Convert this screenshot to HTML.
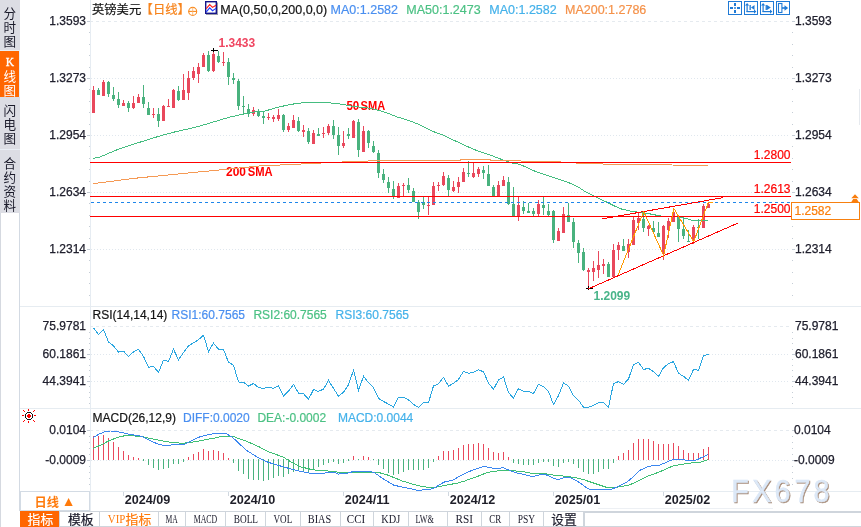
<!DOCTYPE html>
<html><head><meta charset="utf-8"><title>GBPUSD</title>
<style>
html,body{margin:0;padding:0;background:#fff;}
body{width:861px;height:527px;overflow:hidden;position:relative;}
svg text{white-space:pre;}
</style></head>
<body>
<svg width="861" height="527" viewBox="0 0 861 527" style="position:absolute;left:0;top:0">
<g font-family='"Liberation Sans","Noto Sans CJK SC",sans-serif'>
<rect x="0" y="0" width="20" height="213" fill="#dcdde4"/>
<rect x="0" y="50" width="20" height="1" fill="#e9eef5"/>
<rect x="0" y="51" width="19" height="46" fill="#ff6600"/>
<rect x="19" y="51" width="1" height="46" fill="#e9eef5"/>
<rect x="0" y="149" width="20" height="1" fill="#e9eef5"/>
<rect x="0" y="213" width="1" height="314" fill="#d5d9e0"/>
<rect x="19" y="213" width="1" height="298" fill="#d3dae3"/>
<text x="9.8" y="17.6" fill="#1a1a2a" font-size="12.6" text-anchor="middle">分</text><text x="9.8" y="31.6" fill="#1a1a2a" font-size="12.6" text-anchor="middle">时</text><text x="9.8" y="45.6" fill="#1a1a2a" font-size="12.6" text-anchor="middle">图</text>
<text x="9.9" y="65.6" fill="#fff" font-size="11.5" stroke="#fff" stroke-width="0.3" text-anchor="middle" font-family="Liberation Serif,serif">K</text>
<text x="9.8" y="81.0" fill="#fff" font-size="12.6" text-anchor="middle">线</text><text x="9.8" y="95.2" fill="#fff" font-size="12.6" text-anchor="middle">图</text>
<text x="9.8" y="115.0" fill="#1a1a2a" font-size="12.6" text-anchor="middle">闪</text><text x="9.8" y="129.1" fill="#1a1a2a" font-size="12.6" text-anchor="middle">电</text><text x="9.8" y="143.2" fill="#1a1a2a" font-size="12.6" text-anchor="middle">图</text>
<text x="9.8" y="167.6" fill="#1a1a2a" font-size="12.6" text-anchor="middle">合</text><text x="9.8" y="181.6" fill="#1a1a2a" font-size="12.6" text-anchor="middle">约</text><text x="9.8" y="195.6" fill="#1a1a2a" font-size="12.6" text-anchor="middle">资</text><text x="9.8" y="209.6" fill="#1a1a2a" font-size="12.6" text-anchor="middle">料</text>
<rect x="90" y="0" width="1" height="511" fill="#e6ecf2"/>
<line x1="90" y1="21.5" x2="790" y2="21.5" stroke="#e5eaef" stroke-dasharray="3,3"/>
<line x1="91" y1="78.5" x2="790" y2="78.5" stroke="#e0e7ee" stroke-dasharray="1,2"/>
<line x1="91" y1="135.5" x2="790" y2="135.5" stroke="#e0e7ee" stroke-dasharray="1,2"/>
<line x1="91" y1="192.5" x2="790" y2="192.5" stroke="#e0e7ee" stroke-dasharray="1,2"/>
<line x1="91" y1="249.5" x2="790" y2="249.5" stroke="#e0e7ee" stroke-dasharray="1,2"/>
<rect x="20" y="306" width="841" height="1" fill="#e6ecf1"/>
<rect x="20" y="408" width="841" height="1" fill="#e6ecf1"/>
<rect x="20" y="491" width="841" height="1" fill="#e6ecf1"/>
<line x1="90" y1="326.5" x2="790" y2="326.5" stroke="#e5eaef" stroke-dasharray="3,3"/>
<line x1="91" y1="354.5" x2="790" y2="354.5" stroke="#e0e7ee" stroke-dasharray="1,2"/>
<line x1="91" y1="381.5" x2="790" y2="381.5" stroke="#e0e7ee" stroke-dasharray="1,2"/>
<line x1="90" y1="430.5" x2="790" y2="430.5" stroke="#e5eaef" stroke-dasharray="3,3"/>
<line x1="91" y1="460.5" x2="790" y2="460.5" stroke="#e0e7ee" stroke-dasharray="1,2"/>
<rect x="87" y="21" width="3" height="1" fill="#c5cdd6"/><rect x="792" y="21" width="3" height="1" fill="#c5cdd6"/><rect x="87" y="78" width="3" height="1" fill="#c5cdd6"/><rect x="792" y="78" width="3" height="1" fill="#c5cdd6"/><rect x="87" y="135" width="3" height="1" fill="#c5cdd6"/><rect x="792" y="135" width="3" height="1" fill="#c5cdd6"/><rect x="87" y="192" width="3" height="1" fill="#c5cdd6"/><rect x="792" y="192" width="3" height="1" fill="#c5cdd6"/><rect x="87" y="249" width="3" height="1" fill="#c5cdd6"/><rect x="792" y="249" width="3" height="1" fill="#c5cdd6"/><rect x="89" y="32" width="1" height="1" fill="#c5cdd6"/><rect x="792" y="32" width="1" height="1" fill="#c5cdd6"/><rect x="89" y="44" width="1" height="1" fill="#c5cdd6"/><rect x="792" y="44" width="1" height="1" fill="#c5cdd6"/><rect x="89" y="55" width="1" height="1" fill="#c5cdd6"/><rect x="792" y="55" width="1" height="1" fill="#c5cdd6"/><rect x="89" y="67" width="1" height="1" fill="#c5cdd6"/><rect x="792" y="67" width="1" height="1" fill="#c5cdd6"/><rect x="89" y="89" width="1" height="1" fill="#c5cdd6"/><rect x="792" y="89" width="1" height="1" fill="#c5cdd6"/><rect x="89" y="101" width="1" height="1" fill="#c5cdd6"/><rect x="792" y="101" width="1" height="1" fill="#c5cdd6"/><rect x="89" y="112" width="1" height="1" fill="#c5cdd6"/><rect x="792" y="112" width="1" height="1" fill="#c5cdd6"/><rect x="89" y="124" width="1" height="1" fill="#c5cdd6"/><rect x="792" y="124" width="1" height="1" fill="#c5cdd6"/><rect x="89" y="146" width="1" height="1" fill="#c5cdd6"/><rect x="792" y="146" width="1" height="1" fill="#c5cdd6"/><rect x="89" y="158" width="1" height="1" fill="#c5cdd6"/><rect x="792" y="158" width="1" height="1" fill="#c5cdd6"/><rect x="89" y="169" width="1" height="1" fill="#c5cdd6"/><rect x="792" y="169" width="1" height="1" fill="#c5cdd6"/><rect x="89" y="181" width="1" height="1" fill="#c5cdd6"/><rect x="792" y="181" width="1" height="1" fill="#c5cdd6"/><rect x="89" y="203" width="1" height="1" fill="#c5cdd6"/><rect x="792" y="203" width="1" height="1" fill="#c5cdd6"/><rect x="89" y="215" width="1" height="1" fill="#c5cdd6"/><rect x="792" y="215" width="1" height="1" fill="#c5cdd6"/><rect x="89" y="226" width="1" height="1" fill="#c5cdd6"/><rect x="792" y="226" width="1" height="1" fill="#c5cdd6"/><rect x="89" y="238" width="1" height="1" fill="#c5cdd6"/><rect x="792" y="238" width="1" height="1" fill="#c5cdd6"/><rect x="89" y="260" width="1" height="1" fill="#c5cdd6"/><rect x="792" y="260" width="1" height="1" fill="#c5cdd6"/><rect x="89" y="272" width="1" height="1" fill="#c5cdd6"/><rect x="792" y="272" width="1" height="1" fill="#c5cdd6"/><rect x="89" y="283" width="1" height="1" fill="#c5cdd6"/><rect x="792" y="283" width="1" height="1" fill="#c5cdd6"/><rect x="89" y="295" width="1" height="1" fill="#c5cdd6"/><rect x="792" y="295" width="1" height="1" fill="#c5cdd6"/>
<rect x="87" y="354" width="3" height="1" fill="#c5cdd6"/><rect x="792" y="354" width="3" height="1" fill="#c5cdd6"/><rect x="87" y="381" width="3" height="1" fill="#c5cdd6"/><rect x="792" y="381" width="3" height="1" fill="#c5cdd6"/><rect x="89" y="332" width="1" height="1" fill="#c5cdd6"/><rect x="792" y="332" width="1" height="1" fill="#c5cdd6"/><rect x="89" y="338" width="1" height="1" fill="#c5cdd6"/><rect x="792" y="338" width="1" height="1" fill="#c5cdd6"/><rect x="89" y="343" width="1" height="1" fill="#c5cdd6"/><rect x="792" y="343" width="1" height="1" fill="#c5cdd6"/><rect x="89" y="349" width="1" height="1" fill="#c5cdd6"/><rect x="792" y="349" width="1" height="1" fill="#c5cdd6"/><rect x="89" y="359" width="1" height="1" fill="#c5cdd6"/><rect x="792" y="359" width="1" height="1" fill="#c5cdd6"/><rect x="89" y="365" width="1" height="1" fill="#c5cdd6"/><rect x="792" y="365" width="1" height="1" fill="#c5cdd6"/><rect x="89" y="370" width="1" height="1" fill="#c5cdd6"/><rect x="792" y="370" width="1" height="1" fill="#c5cdd6"/><rect x="89" y="376" width="1" height="1" fill="#c5cdd6"/><rect x="792" y="376" width="1" height="1" fill="#c5cdd6"/><rect x="89" y="386" width="1" height="1" fill="#c5cdd6"/><rect x="792" y="386" width="1" height="1" fill="#c5cdd6"/><rect x="89" y="392" width="1" height="1" fill="#c5cdd6"/><rect x="792" y="392" width="1" height="1" fill="#c5cdd6"/><rect x="89" y="397" width="1" height="1" fill="#c5cdd6"/><rect x="792" y="397" width="1" height="1" fill="#c5cdd6"/><rect x="89" y="403" width="1" height="1" fill="#c5cdd6"/><rect x="792" y="403" width="1" height="1" fill="#c5cdd6"/>
<rect x="87" y="430" width="3" height="1" fill="#c5cdd6"/><rect x="792" y="430" width="3" height="1" fill="#c5cdd6"/><rect x="87" y="460" width="3" height="1" fill="#c5cdd6"/><rect x="792" y="460" width="3" height="1" fill="#c5cdd6"/><rect x="89" y="436" width="1" height="1" fill="#c5cdd6"/><rect x="792" y="436" width="1" height="1" fill="#c5cdd6"/><rect x="89" y="442" width="1" height="1" fill="#c5cdd6"/><rect x="792" y="442" width="1" height="1" fill="#c5cdd6"/><rect x="89" y="448" width="1" height="1" fill="#c5cdd6"/><rect x="792" y="448" width="1" height="1" fill="#c5cdd6"/><rect x="89" y="454" width="1" height="1" fill="#c5cdd6"/><rect x="792" y="454" width="1" height="1" fill="#c5cdd6"/><rect x="89" y="466" width="1" height="1" fill="#c5cdd6"/><rect x="792" y="466" width="1" height="1" fill="#c5cdd6"/><rect x="89" y="472" width="1" height="1" fill="#c5cdd6"/><rect x="792" y="472" width="1" height="1" fill="#c5cdd6"/><rect x="89" y="478" width="1" height="1" fill="#c5cdd6"/><rect x="792" y="478" width="1" height="1" fill="#c5cdd6"/><rect x="89" y="484" width="1" height="1" fill="#c5cdd6"/><rect x="792" y="484" width="1" height="1" fill="#c5cdd6"/>
<text x="86" y="25.2" fill="#20202e" font-size="12" text-anchor="end" font-weight="normal" stroke="#20202e" stroke-width="0.25">1.3593</text>
<text x="795" y="24.6" fill="#20202e" font-size="12" text-anchor="start" font-weight="normal" stroke="#20202e" stroke-width="0.25">1.3593</text>
<text x="86" y="82.2" fill="#20202e" font-size="12" text-anchor="end" font-weight="normal" stroke="#20202e" stroke-width="0.25">1.3273</text>
<text x="795" y="81.6" fill="#20202e" font-size="12" text-anchor="start" font-weight="normal" stroke="#20202e" stroke-width="0.25">1.3273</text>
<text x="86" y="139.2" fill="#20202e" font-size="12" text-anchor="end" font-weight="normal" stroke="#20202e" stroke-width="0.25">1.2954</text>
<text x="795" y="138.6" fill="#20202e" font-size="12" text-anchor="start" font-weight="normal" stroke="#20202e" stroke-width="0.25">1.2954</text>
<text x="86" y="196.2" fill="#20202e" font-size="12" text-anchor="end" font-weight="normal" stroke="#20202e" stroke-width="0.25">1.2634</text>
<text x="795" y="195.6" fill="#20202e" font-size="12" text-anchor="start" font-weight="normal" stroke="#20202e" stroke-width="0.25">1.2634</text>
<text x="86" y="253.2" fill="#20202e" font-size="12" text-anchor="end" font-weight="normal" stroke="#20202e" stroke-width="0.25">1.2314</text>
<text x="795" y="252.6" fill="#20202e" font-size="12" text-anchor="start" font-weight="normal" stroke="#20202e" stroke-width="0.25">1.2314</text>
<text x="86" y="330.2" fill="#20202e" font-size="12" text-anchor="end" font-weight="normal" stroke="#20202e" stroke-width="0.25">75.9781</text>
<text x="795" y="329.6" fill="#20202e" font-size="12" text-anchor="start" font-weight="normal" stroke="#20202e" stroke-width="0.25">75.9781</text>
<text x="86" y="358.2" fill="#20202e" font-size="12" text-anchor="end" font-weight="normal" stroke="#20202e" stroke-width="0.25">60.1861</text>
<text x="795" y="357.6" fill="#20202e" font-size="12" text-anchor="start" font-weight="normal" stroke="#20202e" stroke-width="0.25">60.1861</text>
<text x="86" y="385.2" fill="#20202e" font-size="12" text-anchor="end" font-weight="normal" stroke="#20202e" stroke-width="0.25">44.3941</text>
<text x="795" y="384.6" fill="#20202e" font-size="12" text-anchor="start" font-weight="normal" stroke="#20202e" stroke-width="0.25">44.3941</text>
<text x="86" y="434.2" fill="#20202e" font-size="12" text-anchor="end" font-weight="normal" stroke="#20202e" stroke-width="0.25">0.0104</text>
<text x="794" y="433.6" fill="#20202e" font-size="12" text-anchor="start" font-weight="normal" stroke="#20202e" stroke-width="0.25">0.0104</text>
<text x="86" y="464.2" fill="#20202e" font-size="12" text-anchor="end" font-weight="normal" stroke="#20202e" stroke-width="0.25">-0.0009</text>
<text x="794" y="463.6" fill="#20202e" font-size="12" text-anchor="start" font-weight="normal" stroke="#20202e" stroke-width="0.25">-0.0009</text>
<rect x="93" y="86" width="1" height="27" fill="#e9485c"/>
<rect x="92" y="90" width="3" height="23" fill="#e9485c"/>
<rect x="98" y="88" width="1" height="7" fill="#49b27e"/>
<rect x="97" y="90" width="3" height="5" fill="#49b27e"/>
<rect x="103" y="80" width="1" height="16" fill="#e9485c"/>
<rect x="102" y="82" width="3" height="14" fill="#e9485c"/>
<rect x="108" y="81" width="1" height="16" fill="#49b27e"/>
<rect x="107" y="82" width="3" height="12" fill="#49b27e"/>
<rect x="113" y="87" width="1" height="14" fill="#49b27e"/>
<rect x="112" y="95" width="3" height="4" fill="#49b27e"/>
<rect x="118" y="92" width="1" height="16" fill="#49b27e"/>
<rect x="117" y="99" width="3" height="6" fill="#49b27e"/>
<rect x="123" y="100" width="1" height="6" fill="#e9485c"/>
<rect x="122" y="103" width="3" height="3" fill="#e9485c"/>
<rect x="128" y="101" width="1" height="11" fill="#49b27e"/>
<rect x="127" y="103" width="3" height="5" fill="#49b27e"/>
<rect x="133" y="96" width="1" height="13" fill="#e9485c"/>
<rect x="132" y="103" width="3" height="5" fill="#e9485c"/>
<rect x="138" y="94" width="1" height="9" fill="#e9485c"/>
<rect x="137" y="97" width="3" height="6" fill="#e9485c"/>
<rect x="143" y="85" width="1" height="23" fill="#49b27e"/>
<rect x="142" y="97" width="3" height="7" fill="#49b27e"/>
<rect x="148" y="102" width="1" height="13" fill="#49b27e"/>
<rect x="147" y="108" width="3" height="7" fill="#49b27e"/>
<rect x="153" y="108" width="1" height="10" fill="#e9485c"/>
<rect x="152" y="114" width="3" height="1" fill="#e9485c"/>
<rect x="158" y="108" width="1" height="19" fill="#49b27e"/>
<rect x="157" y="114" width="3" height="7" fill="#49b27e"/>
<rect x="163" y="105" width="1" height="16" fill="#e9485c"/>
<rect x="162" y="106" width="3" height="15" fill="#e9485c"/>
<rect x="168" y="99" width="1" height="8" fill="#e9485c"/>
<rect x="167" y="106" width="3" height="1" fill="#e9485c"/>
<rect x="173" y="89" width="1" height="19" fill="#e9485c"/>
<rect x="172" y="90" width="3" height="18" fill="#e9485c"/>
<rect x="178" y="86" width="1" height="15" fill="#49b27e"/>
<rect x="177" y="91" width="3" height="9" fill="#49b27e"/>
<rect x="183" y="74" width="1" height="26" fill="#e9485c"/>
<rect x="182" y="90" width="3" height="10" fill="#e9485c"/>
<rect x="188" y="71" width="1" height="29" fill="#e9485c"/>
<rect x="187" y="78" width="3" height="15" fill="#e9485c"/>
<rect x="193" y="67" width="1" height="13" fill="#e9485c"/>
<rect x="192" y="71" width="3" height="7" fill="#e9485c"/>
<rect x="198" y="63" width="1" height="20" fill="#e9485c"/>
<rect x="197" y="67" width="3" height="7" fill="#e9485c"/>
<rect x="203" y="53" width="1" height="14" fill="#e9485c"/>
<rect x="202" y="55" width="3" height="12" fill="#e9485c"/>
<rect x="208" y="51" width="1" height="21" fill="#49b27e"/>
<rect x="207" y="55" width="3" height="16" fill="#49b27e"/>
<rect x="213" y="50" width="1" height="22" fill="#e9485c"/>
<rect x="212" y="54" width="3" height="17" fill="#e9485c"/>
<rect x="218" y="51" width="1" height="12" fill="#49b27e"/>
<rect x="217" y="56" width="3" height="6" fill="#49b27e"/>
<rect x="223" y="52" width="1" height="14" fill="#e9485c"/>
<rect x="222" y="62" width="3" height="1" fill="#e9485c"/>
<rect x="228" y="58" width="1" height="27" fill="#49b27e"/>
<rect x="227" y="62" width="3" height="15" fill="#49b27e"/>
<rect x="233" y="73" width="1" height="11" fill="#49b27e"/>
<rect x="232" y="78" width="3" height="2" fill="#49b27e"/>
<rect x="238" y="79" width="1" height="31" fill="#49b27e"/>
<rect x="237" y="81" width="3" height="25" fill="#49b27e"/>
<rect x="243" y="96" width="1" height="18" fill="#49b27e"/>
<rect x="242" y="106" width="3" height="1" fill="#49b27e"/>
<rect x="248" y="104" width="1" height="13" fill="#49b27e"/>
<rect x="247" y="109" width="3" height="5" fill="#49b27e"/>
<rect x="253" y="107" width="1" height="9" fill="#e9485c"/>
<rect x="252" y="110" width="3" height="4" fill="#e9485c"/>
<rect x="258" y="109" width="1" height="8" fill="#49b27e"/>
<rect x="257" y="112" width="3" height="4" fill="#49b27e"/>
<rect x="263" y="112" width="1" height="12" fill="#49b27e"/>
<rect x="262" y="116" width="3" height="2" fill="#49b27e"/>
<rect x="268" y="113" width="1" height="7" fill="#e9485c"/>
<rect x="267" y="117" width="3" height="1" fill="#e9485c"/>
<rect x="273" y="115" width="1" height="7" fill="#e9485c"/>
<rect x="272" y="117" width="3" height="2" fill="#e9485c"/>
<rect x="278" y="109" width="1" height="12" fill="#e9485c"/>
<rect x="277" y="115" width="3" height="4" fill="#e9485c"/>
<rect x="283" y="114" width="1" height="18" fill="#49b27e"/>
<rect x="282" y="115" width="3" height="15" fill="#49b27e"/>
<rect x="288" y="123" width="1" height="9" fill="#e9485c"/>
<rect x="287" y="126" width="3" height="4" fill="#e9485c"/>
<rect x="293" y="115" width="1" height="13" fill="#e9485c"/>
<rect x="292" y="120" width="3" height="8" fill="#e9485c"/>
<rect x="298" y="117" width="1" height="15" fill="#49b27e"/>
<rect x="297" y="121" width="3" height="10" fill="#49b27e"/>
<rect x="303" y="125" width="1" height="12" fill="#e9485c"/>
<rect x="302" y="130" width="3" height="2" fill="#e9485c"/>
<rect x="308" y="128" width="1" height="16" fill="#49b27e"/>
<rect x="307" y="131" width="3" height="11" fill="#49b27e"/>
<rect x="313" y="130" width="1" height="14" fill="#e9485c"/>
<rect x="312" y="133" width="3" height="11" fill="#e9485c"/>
<rect x="318" y="128" width="1" height="8" fill="#49b27e"/>
<rect x="317" y="134" width="3" height="2" fill="#49b27e"/>
<rect x="323" y="127" width="1" height="11" fill="#e9485c"/>
<rect x="322" y="133" width="3" height="1" fill="#e9485c"/>
<rect x="328" y="124" width="1" height="11" fill="#e9485c"/>
<rect x="327" y="126" width="3" height="7" fill="#e9485c"/>
<rect x="333" y="120" width="1" height="19" fill="#49b27e"/>
<rect x="332" y="126" width="3" height="9" fill="#49b27e"/>
<rect x="338" y="127" width="1" height="28" fill="#49b27e"/>
<rect x="337" y="135" width="3" height="11" fill="#49b27e"/>
<rect x="343" y="131" width="1" height="17" fill="#e9485c"/>
<rect x="342" y="143" width="3" height="3" fill="#e9485c"/>
<rect x="348" y="128" width="1" height="11" fill="#49b27e"/>
<rect x="347" y="134" width="3" height="2" fill="#49b27e"/>
<rect x="353" y="120" width="1" height="18" fill="#e9485c"/>
<rect x="352" y="121" width="3" height="17" fill="#e9485c"/>
<rect x="358" y="119" width="1" height="38" fill="#49b27e"/>
<rect x="357" y="122" width="3" height="28" fill="#49b27e"/>
<rect x="363" y="126" width="1" height="26" fill="#e9485c"/>
<rect x="362" y="131" width="3" height="21" fill="#e9485c"/>
<rect x="368" y="130" width="1" height="18" fill="#49b27e"/>
<rect x="367" y="131" width="3" height="12" fill="#49b27e"/>
<rect x="373" y="141" width="1" height="12" fill="#49b27e"/>
<rect x="372" y="146" width="3" height="6" fill="#49b27e"/>
<rect x="378" y="150" width="1" height="28" fill="#49b27e"/>
<rect x="377" y="153" width="3" height="20" fill="#49b27e"/>
<rect x="383" y="169" width="1" height="14" fill="#49b27e"/>
<rect x="382" y="174" width="3" height="6" fill="#49b27e"/>
<rect x="388" y="177" width="1" height="16" fill="#49b27e"/>
<rect x="387" y="182" width="3" height="6" fill="#49b27e"/>
<rect x="393" y="181" width="1" height="18" fill="#49b27e"/>
<rect x="392" y="189" width="3" height="7" fill="#49b27e"/>
<rect x="398" y="183" width="1" height="15" fill="#e9485c"/>
<rect x="397" y="186" width="3" height="12" fill="#e9485c"/>
<rect x="403" y="183" width="1" height="13" fill="#e9485c"/>
<rect x="402" y="185" width="3" height="1" fill="#e9485c"/>
<rect x="408" y="178" width="1" height="15" fill="#49b27e"/>
<rect x="407" y="185" width="3" height="5" fill="#49b27e"/>
<rect x="413" y="188" width="1" height="14" fill="#49b27e"/>
<rect x="412" y="191" width="3" height="11" fill="#49b27e"/>
<rect x="418" y="200" width="1" height="19" fill="#49b27e"/>
<rect x="417" y="202" width="3" height="10" fill="#49b27e"/>
<rect x="423" y="197" width="1" height="12" fill="#49b27e"/>
<rect x="422" y="202" width="3" height="3" fill="#49b27e"/>
<rect x="428" y="197" width="1" height="18" fill="#e9485c"/>
<rect x="427" y="205" width="3" height="1" fill="#e9485c"/>
<rect x="433" y="182" width="1" height="23" fill="#e9485c"/>
<rect x="432" y="186" width="3" height="19" fill="#e9485c"/>
<rect x="438" y="182" width="1" height="9" fill="#e9485c"/>
<rect x="437" y="185" width="3" height="1" fill="#e9485c"/>
<rect x="443" y="172" width="1" height="14" fill="#e9485c"/>
<rect x="442" y="176" width="3" height="9" fill="#e9485c"/>
<rect x="448" y="175" width="1" height="21" fill="#49b27e"/>
<rect x="447" y="178" width="3" height="12" fill="#49b27e"/>
<rect x="453" y="181" width="1" height="11" fill="#e9485c"/>
<rect x="452" y="187" width="3" height="4" fill="#e9485c"/>
<rect x="458" y="177" width="1" height="16" fill="#e9485c"/>
<rect x="457" y="182" width="3" height="5" fill="#e9485c"/>
<rect x="463" y="168" width="1" height="14" fill="#e9485c"/>
<rect x="462" y="172" width="3" height="10" fill="#e9485c"/>
<rect x="468" y="161" width="1" height="16" fill="#49b27e"/>
<rect x="467" y="173" width="3" height="1" fill="#49b27e"/>
<rect x="473" y="163" width="1" height="15" fill="#e9485c"/>
<rect x="472" y="173" width="3" height="4" fill="#e9485c"/>
<rect x="478" y="167" width="1" height="10" fill="#e9485c"/>
<rect x="477" y="169" width="3" height="5" fill="#e9485c"/>
<rect x="483" y="166" width="1" height="13" fill="#49b27e"/>
<rect x="482" y="170" width="3" height="3" fill="#49b27e"/>
<rect x="488" y="165" width="1" height="21" fill="#49b27e"/>
<rect x="487" y="174" width="3" height="12" fill="#49b27e"/>
<rect x="493" y="185" width="1" height="11" fill="#49b27e"/>
<rect x="492" y="187" width="3" height="9" fill="#49b27e"/>
<rect x="498" y="181" width="1" height="16" fill="#e9485c"/>
<rect x="497" y="185" width="3" height="12" fill="#e9485c"/>
<rect x="503" y="176" width="1" height="10" fill="#e9485c"/>
<rect x="502" y="180" width="3" height="6" fill="#e9485c"/>
<rect x="508" y="177" width="1" height="28" fill="#49b27e"/>
<rect x="507" y="182" width="3" height="22" fill="#49b27e"/>
<rect x="513" y="187" width="1" height="29" fill="#49b27e"/>
<rect x="512" y="204" width="3" height="12" fill="#49b27e"/>
<rect x="518" y="197" width="1" height="24" fill="#e9485c"/>
<rect x="517" y="205" width="3" height="12" fill="#e9485c"/>
<rect x="523" y="201" width="1" height="13" fill="#49b27e"/>
<rect x="522" y="207" width="3" height="4" fill="#49b27e"/>
<rect x="528" y="203" width="1" height="10" fill="#49b27e"/>
<rect x="527" y="211" width="3" height="2" fill="#49b27e"/>
<rect x="533" y="208" width="1" height="8" fill="#49b27e"/>
<rect x="532" y="211" width="3" height="3" fill="#49b27e"/>
<rect x="538" y="200" width="1" height="16" fill="#e9485c"/>
<rect x="537" y="204" width="3" height="10" fill="#e9485c"/>
<rect x="543" y="197" width="1" height="18" fill="#49b27e"/>
<rect x="542" y="205" width="3" height="3" fill="#49b27e"/>
<rect x="548" y="204" width="1" height="12" fill="#49b27e"/>
<rect x="547" y="211" width="3" height="4" fill="#49b27e"/>
<rect x="553" y="210" width="1" height="33" fill="#49b27e"/>
<rect x="552" y="211" width="3" height="29" fill="#49b27e"/>
<rect x="558" y="228" width="1" height="13" fill="#e9485c"/>
<rect x="557" y="231" width="3" height="10" fill="#e9485c"/>
<rect x="563" y="207" width="1" height="26" fill="#e9485c"/>
<rect x="562" y="214" width="3" height="19" fill="#e9485c"/>
<rect x="568" y="203" width="1" height="19" fill="#49b27e"/>
<rect x="567" y="215" width="3" height="7" fill="#49b27e"/>
<rect x="573" y="218" width="1" height="30" fill="#49b27e"/>
<rect x="572" y="222" width="3" height="20" fill="#49b27e"/>
<rect x="578" y="240" width="1" height="23" fill="#49b27e"/>
<rect x="577" y="243" width="3" height="10" fill="#49b27e"/>
<rect x="583" y="248" width="1" height="23" fill="#49b27e"/>
<rect x="582" y="252" width="3" height="18" fill="#49b27e"/>
<rect x="588" y="268" width="1" height="21" fill="#e9485c"/>
<rect x="587" y="270" width="3" height="2" fill="#e9485c"/>
<rect x="593" y="261" width="1" height="20" fill="#e9485c"/>
<rect x="592" y="268" width="3" height="4" fill="#e9485c"/>
<rect x="598" y="251" width="1" height="27" fill="#e9485c"/>
<rect x="597" y="265" width="3" height="5" fill="#e9485c"/>
<rect x="603" y="259" width="1" height="15" fill="#e9485c"/>
<rect x="602" y="264" width="3" height="2" fill="#e9485c"/>
<rect x="608" y="262" width="1" height="15" fill="#49b27e"/>
<rect x="607" y="264" width="3" height="13" fill="#49b27e"/>
<rect x="613" y="244" width="1" height="33" fill="#e9485c"/>
<rect x="612" y="250" width="3" height="27" fill="#e9485c"/>
<rect x="618" y="242" width="1" height="18" fill="#e9485c"/>
<rect x="617" y="245" width="3" height="5" fill="#e9485c"/>
<rect x="623" y="239" width="1" height="12" fill="#49b27e"/>
<rect x="622" y="246" width="3" height="5" fill="#49b27e"/>
<rect x="628" y="239" width="1" height="19" fill="#e9485c"/>
<rect x="627" y="244" width="3" height="8" fill="#e9485c"/>
<rect x="633" y="217" width="1" height="28" fill="#e9485c"/>
<rect x="632" y="220" width="3" height="25" fill="#e9485c"/>
<rect x="638" y="213" width="1" height="17" fill="#e9485c"/>
<rect x="637" y="218" width="3" height="5" fill="#e9485c"/>
<rect x="643" y="211" width="1" height="21" fill="#49b27e"/>
<rect x="642" y="219" width="3" height="9" fill="#49b27e"/>
<rect x="648" y="225" width="1" height="11" fill="#e9485c"/>
<rect x="647" y="226" width="3" height="3" fill="#e9485c"/>
<rect x="653" y="221" width="1" height="12" fill="#49b27e"/>
<rect x="652" y="228" width="3" height="4" fill="#49b27e"/>
<rect x="658" y="222" width="1" height="15" fill="#49b27e"/>
<rect x="657" y="233" width="3" height="4" fill="#49b27e"/>
<rect x="663" y="225" width="1" height="35" fill="#e9485c"/>
<rect x="662" y="226" width="3" height="28" fill="#e9485c"/>
<rect x="668" y="218" width="1" height="20" fill="#e9485c"/>
<rect x="667" y="221" width="3" height="9" fill="#e9485c"/>
<rect x="673" y="208" width="1" height="14" fill="#e9485c"/>
<rect x="672" y="212" width="3" height="10" fill="#e9485c"/>
<rect x="678" y="216" width="1" height="26" fill="#49b27e"/>
<rect x="677" y="217" width="3" height="12" fill="#49b27e"/>
<rect x="683" y="217" width="1" height="22" fill="#49b27e"/>
<rect x="682" y="229" width="3" height="7" fill="#49b27e"/>
<rect x="688" y="230" width="1" height="12" fill="#49b27e"/>
<rect x="687" y="241" width="3" height="1" fill="#49b27e"/>
<rect x="693" y="225" width="1" height="19" fill="#e9485c"/>
<rect x="692" y="227" width="3" height="14" fill="#e9485c"/>
<rect x="698" y="219" width="1" height="20" fill="#49b27e"/>
<rect x="697" y="227" width="3" height="1" fill="#49b27e"/>
<rect x="703" y="204" width="1" height="24" fill="#e9485c"/>
<rect x="702" y="206" width="3" height="22" fill="#e9485c"/>
<rect x="708" y="202" width="1" height="6" fill="#e9485c"/>
<rect x="707" y="204" width="3" height="4" fill="#e9485c"/>
<text x="346.4" y="109.8" fill="#ff0000" font-size="12" font-weight="bold" lengthAdjust="spacingAndGlyphs" textLength="12.9">50</text><text x="360.6" y="109.8" fill="#ff0000" font-size="12" font-weight="bold" lengthAdjust="spacingAndGlyphs" textLength="24.6">SMA</text>
<text x="226" y="175.8" fill="#ff0000" font-size="12" font-weight="bold" lengthAdjust="spacingAndGlyphs" textLength="19.9">200</text><text x="247.8" y="175.8" fill="#ff0000" font-size="12" font-weight="bold" lengthAdjust="spacingAndGlyphs" textLength="24.9">SMA</text>
<polyline points="93.2,158.4 99.2,157.3 117.7,149.5 134.5,143.9 149.3,139.3 162.3,135.2 177.2,131.3 192.1,128.1 207.0,124.0 221.8,119.4 230.0,117.1 242.8,114.2 250.9,112.3 264.8,111.1 276.5,107.6 285.7,105.5 296.2,103.5 311.3,102.0 325.0,102.0 330.8,103.0 341.3,104.1 354.0,106.5 365.7,107.6 375.0,109.4 385.4,112.3 397.0,116.9 408.6,120.4 420.0,124.9 431.6,131.0 443.2,135.1 454.8,140.7 466.5,146.1 478.1,151.1 489.7,154.8 501.3,159.3 512.9,163.2 520.0,164.4 535.7,171.5 550.0,176.4 561.6,180.2 570.9,183.5 579.0,187.4 584.8,191.4 594.1,195.9 602.3,200.0 608.1,202.8 615.0,206.3 622.0,209.2 631.3,211.3 641.7,212.5 648.0,213.5 653.0,214.5 658.0,215.5 664.0,216.5 677.0,216.5 682.0,217.5 688.0,219.0 692.0,220.5 708.0,220.5" fill="none" stroke="#45bd80" stroke-width="1" shape-rendering="crispEdges"/>
<polyline points="93.0,183.7 134.5,178.3 180.9,173.7 227.4,169.2 260.0,165.9 270.0,165.5 291.0,164.5 311.0,163.5 331.0,162.5 353.0,161.5 380.0,160.6 420.0,160.4 460.0,160.4 461.0,159.2 490.0,159.2 491.0,160.4 520.0,160.4 522.0,161.5 555.0,161.6 581.0,163.3 596.0,163.6 612.0,164.5 708.0,165.3" fill="none" stroke="#f59a55" stroke-width="1" shape-rendering="crispEdges"/>
<rect x="90" y="162" width="701" height="1" fill="#ff0000"/>
<rect x="90" y="196" width="701" height="1" fill="#ff0000"/>
<rect x="90" y="216" width="701" height="1" fill="#ff0000"/>
<line x1="91" y1="202.5" x2="790" y2="202.5" stroke="#1e86ea" stroke-dasharray="3,3"/>
<rect x="211" y="50" width="7" height="1" fill="#000"/><rect x="213" y="48" width="1" height="4" fill="#000"/>
<rect x="586" y="288" width="7" height="1" fill="#000"/><rect x="588" y="286" width="1" height="4" fill="#000"/>
<line x1="588" y1="289" x2="738" y2="223" stroke="#ff0000" stroke-width="1" shape-rendering="crispEdges"/>
<line x1="602" y1="218.9" x2="723" y2="197.6" stroke="#ff0000" stroke-width="1" shape-rendering="crispEdges"/>
<polyline points="618.0,275.1 643.7,211.6 663.6,255.5 673.9,208.5 693.7,241.8 708.5,202.0 712.8,202.0" fill="none" stroke="#ff9a00" stroke-width="1" shape-rendering="crispEdges"/>
<text x="218.5" y="47" fill="#ef4560" font-size="12" text-anchor="start" font-weight="bold" >1.3433</text>
<text x="593.5" y="300" fill="#48b489" font-size="12" text-anchor="start" font-weight="bold" >1.2099</text>
<text x="790.5" y="159" fill="#ff0000" font-size="12" text-anchor="end" font-weight="normal"  stroke="#ff0000" stroke-width="0.2">1.2800</text>
<text x="790.5" y="193" fill="#ff0000" font-size="12" text-anchor="end" font-weight="normal"  stroke="#ff0000" stroke-width="0.2">1.2613</text>
<text x="790.5" y="213" fill="#ff0000" font-size="12" text-anchor="end" font-weight="normal"  stroke="#ff0000" stroke-width="0.2">1.2500</text>
<rect x="791.5" y="202.5" width="68" height="17" fill="#fff" stroke="#f7800f"/>
<text x="794.5" y="215" fill="#fb7d08" font-size="12" text-anchor="start" font-weight="normal"  stroke="#fb7d08" stroke-width="0.2">1.2582</text>
<path d="M851.3 198.3 L855 194.2 L858.8 198.3 Z M853.2 199.1 L856.8 199.1 L859.1 202.4 L851 202.4 Z" fill="#f97d0c"/>
<rect x="859" y="89" width="1" height="36" fill="#e6eaef"/>
<text x="92" y="14.2" fill="#141414" font-size="12.3" text-anchor="start" font-weight="normal"  stroke="#141414" stroke-width="0.2">英镑美元</text>
<text x="140.6" y="14.2" fill="#f7841c" font-size="12.3" text-anchor="start" font-weight="normal"  stroke="#f7841c" stroke-width="0.2">【日线】</text>
<circle cx="192.7" cy="11.4" r="4" fill="none" stroke="#f98a1e" stroke-width="1.1"/><path d="M188.5 11.4h8.4" stroke="#f98a1e" stroke-width="1.1"/><path d="M192.7 7.4v8" stroke="#fbb066" stroke-width="0.8"/>
<rect x="217" y="2.5" width="1" height="12" fill="#9a9aa6"/><rect x="206" y="14" width="12" height="1" fill="#9a9aa6"/>
<rect x="205.7" y="1.7" width="10.6" height="11.6" fill="#fff" stroke="#14148a" stroke-width="1.4"/>
<polyline points="206.3,8.6 209.7,4.6 212.5,7.4 216,5.3" fill="none" stroke="#ff1a1a" stroke-width="1.1"/><polyline points="206.3,11.9 209.7,7.9 212.5,10.7 216,8.4" fill="none" stroke="#1a3aff" stroke-width="1.1"/>
<text x="220.2" y="13.8" fill="#141414" stroke="#141414" font-size="12.5" stroke-width="0.2">MA(0,50,0,200,0,0)</text>
<text x="330.6" y="13.8" fill="#4a8ff0" stroke="#4a8ff0" font-size="12.5" stroke-width="0.2">MA0:1.2582</text>
<text x="406.3" y="13.8" fill="#4cc184" stroke="#4cc184" font-size="12.5" stroke-width="0.2">MA50:1.2473</text>
<text x="489.3" y="13.8" fill="#45b2ea" stroke="#45b2ea" font-size="12.5" stroke-width="0.2">MA0:1.2582</text>
<text x="565" y="13.8" fill="#f5924a" stroke="#f5924a" font-size="12.5" stroke-width="0.2">MA200:1.2786</text>
<rect x="728.5" y="1.5" width="13" height="13" fill="#fff" stroke="#1f7ad6"/>
<rect x="744.5" y="1.5" width="13" height="13" fill="#fff" stroke="#1f7ad6"/>
<rect x="760.5" y="1.5" width="13" height="13" fill="#fff" stroke="#1f7ad6"/>
<rect x="776.5" y="1.5" width="13" height="13" fill="#fff" stroke="#1f7ad6"/>
<rect x="730" y="7" width="3" height="2" fill="#1f7ad6"/><rect x="737" y="7" width="3" height="2" fill="#1f7ad6"/><rect x="734" y="7" width="2" height="2" fill="#1f7ad6" opacity="0.7"/><rect x="734" y="3" width="2" height="3" fill="#1f7ad6"/><rect x="734" y="10" width="2" height="3" fill="#1f7ad6"/>
<rect x="746.5" y="4" width="1.2" height="8" fill="#1f7ad6"/><rect x="746.5" y="11" width="8.5" height="1.2" fill="#1f7ad6"/><path d="M745 5.5l2.1-2.6 2.1 2.6z M754 9.4l2.4 2.2-2.4 2.2z" fill="#1f7ad6"/>
<rect x="762.5" y="4" width="1.2" height="8" fill="#1f7ad6"/><rect x="762.5" y="11" width="8.5" height="1.2" fill="#1f7ad6"/><path d="M761 5.5l2.1-2.6 2.1 2.6z M770 9.4l2.4 2.2-2.4 2.2z" fill="#1f7ad6"/>
<rect x="749.5" y="5" width="1.3" height="5" fill="#1f7ad6"/><path d="M754.5 5v5l-3.5-2.5z" fill="#1f7ad6"/>
<rect x="765.6" y="5" width="1.3" height="5" fill="#1f7ad6"/><path d="M767 5v5l3.8-2.5z" fill="#1f7ad6"/>
<rect x="778.5" y="3.5" width="3.4" height="9" fill="none" stroke="#1f7ad6" stroke-width="1.1"/><path d="M782 8h3" stroke="#1f7ad6" stroke-width="1.6"/><path d="M784.5 5.2l3.6 2.8-3.6 2.8z" fill="#1f7ad6"/>
<text x="92.6" y="318.8" fill="#141414" font-size="12" text-anchor="start" font-weight="normal"  stroke="#141414" stroke-width="0.2">RSI(14,14,14)</text>
<text x="171.6" y="318.8" fill="#4a8ff0" font-size="12" text-anchor="start" font-weight="normal"  stroke="#4a8ff0" stroke-width="0.2">RSI1:60.7565</text>
<text x="253.4" y="318.8" fill="#4cc184" font-size="12" text-anchor="start" font-weight="normal"  stroke="#4cc184" stroke-width="0.2">RSI2:60.7565</text>
<text x="335.6" y="318.8" fill="#45b2ea" font-size="12" text-anchor="start" font-weight="normal"  stroke="#45b2ea" stroke-width="0.2">RSI3:60.7565</text>
<polyline points="93.5,327.9 98.5,334.4 103.5,329.4 108.5,342.0 113.5,345.8 118.5,352.2 123.5,351.1 128.5,356.4 133.5,351.9 138.5,349.2 143.5,356.4 148.5,367.4 153.5,366.3 158.5,372.4 163.5,360.2 168.5,361.3 173.5,349.2 178.5,359.8 183.5,352.6 188.5,345.8 193.5,342.8 198.5,339.7 203.5,335.2 208.5,351.6 213.5,343.1 218.5,349.2 223.5,349.6 228.5,362.2 233.5,365.3 238.5,382.0 243.5,382.3 248.5,386.1 253.5,383.5 258.5,387.6 263.5,388.3 268.5,387.3 273.5,388.3 278.5,385.6 283.5,395.9 288.5,391.1 293.5,384.5 298.5,393.2 303.5,393.7 308.5,399.3 313.5,389.6 318.5,391.4 323.5,389.1 328.5,380.4 333.5,388.3 338.5,396.2 343.5,392.3 348.5,384.7 353.5,370.2 358.5,390.4 363.5,376.3 368.5,382.8 373.5,387.7 378.5,398.3 383.5,401.4 388.5,404.1 393.5,407.1 398.5,397.1 403.5,397.1 408.5,399.9 413.5,404.4 418.5,407.4 423.5,402.6 428.5,402.6 433.5,385.9 438.5,383.9 443.5,377.4 448.5,386.2 453.5,383.2 458.5,379.4 463.5,371.3 468.5,373.3 473.5,372.2 478.5,369.8 483.5,371.8 488.5,383.2 493.5,389.2 498.5,380.1 503.5,376.8 508.5,392.6 513.5,398.0 518.5,388.5 523.5,391.5 528.5,391.5 533.5,393.5 538.5,384.4 543.5,386.5 548.5,391.5 553.5,404.4 558.5,395.6 563.5,382.8 568.5,386.2 573.5,395.6 578.5,400.2 583.5,407.1 588.5,407.4 593.5,405.2 598.5,402.6 603.5,402.6 608.5,407.1 613.5,383.5 618.5,381.6 623.5,384.4 628.5,378.9 633.5,364.6 638.5,362.2 643.5,369.5 648.5,368.3 653.5,371.8 658.5,376.3 663.5,367.7 668.5,363.7 673.5,361.6 678.5,373.3 683.5,376.3 688.5,380.4 693.5,369.5 698.5,370.2 703.5,355.8 708.5,354.0" fill="none" stroke="#2aa6e0" stroke-width="1" shape-rendering="crispEdges"/>
<text x="92.6" y="422.2" fill="#141414" font-size="12" text-anchor="start" font-weight="normal"  stroke="#141414" stroke-width="0.2">MACD(26,12,9)</text>
<text x="183" y="422.2" fill="#4a8ff0" font-size="12" text-anchor="start" font-weight="normal"  stroke="#4a8ff0" stroke-width="0.2">DIFF:0.0020</text>
<text x="257.4" y="422.2" fill="#4cc184" font-size="12" text-anchor="start" font-weight="normal"  stroke="#4cc184" stroke-width="0.2">DEA:-0.0002</text>
<text x="337.9" y="422.2" fill="#45b2ea" font-size="12" text-anchor="start" font-weight="normal"  stroke="#45b2ea" stroke-width="0.2">MACD:0.0044</text>
<rect x="93" y="436" width="1" height="24" fill="#e9485c"/><rect x="98" y="436" width="1" height="24" fill="#e9485c"/><rect x="103" y="435" width="1" height="25" fill="#e9485c"/><rect x="108" y="438" width="1" height="22" fill="#e9485c"/><rect x="113" y="442" width="1" height="18" fill="#e9485c"/><rect x="118" y="447" width="1" height="13" fill="#e9485c"/><rect x="123" y="451" width="1" height="9" fill="#e9485c"/><rect x="128" y="455" width="1" height="5" fill="#e9485c"/><rect x="133" y="457" width="1" height="3" fill="#e9485c"/><rect x="138" y="458" width="1" height="2" fill="#e9485c"/><rect x="143" y="459" width="1" height="2" fill="#49b27e"/><rect x="148" y="459" width="1" height="6" fill="#49b27e"/><rect x="153" y="459" width="1" height="9" fill="#49b27e"/><rect x="158" y="459" width="1" height="11" fill="#49b27e"/><rect x="163" y="459" width="1" height="10" fill="#49b27e"/><rect x="168" y="459" width="1" height="9" fill="#49b27e"/><rect x="173" y="459" width="1" height="5" fill="#49b27e"/><rect x="178" y="459" width="1" height="5" fill="#49b27e"/><rect x="183" y="459" width="1" height="3" fill="#49b27e"/><rect x="188" y="457" width="1" height="3" fill="#e9485c"/><rect x="193" y="454" width="1" height="6" fill="#e9485c"/><rect x="198" y="452" width="1" height="8" fill="#e9485c"/><rect x="203" y="449" width="1" height="11" fill="#e9485c"/><rect x="208" y="451" width="1" height="9" fill="#e9485c"/><rect x="213" y="450" width="1" height="10" fill="#e9485c"/><rect x="218" y="451" width="1" height="9" fill="#e9485c"/><rect x="223" y="453" width="1" height="7" fill="#e9485c"/><rect x="228" y="458" width="1" height="2" fill="#e9485c"/><rect x="233" y="459" width="1" height="4" fill="#49b27e"/><rect x="238" y="459" width="1" height="12" fill="#49b27e"/><rect x="243" y="459" width="1" height="15" fill="#49b27e"/><rect x="248" y="459" width="1" height="20" fill="#49b27e"/><rect x="253" y="459" width="1" height="21" fill="#49b27e"/><rect x="258" y="459" width="1" height="21" fill="#49b27e"/><rect x="263" y="459" width="1" height="22" fill="#49b27e"/><rect x="268" y="459" width="1" height="21" fill="#49b27e"/><rect x="273" y="459" width="1" height="19" fill="#49b27e"/><rect x="278" y="459" width="1" height="17" fill="#49b27e"/><rect x="283" y="459" width="1" height="18" fill="#49b27e"/><rect x="288" y="459" width="1" height="15" fill="#49b27e"/><rect x="293" y="459" width="1" height="13" fill="#49b27e"/><rect x="298" y="459" width="1" height="12" fill="#49b27e"/><rect x="303" y="459" width="1" height="12" fill="#49b27e"/><rect x="308" y="459" width="1" height="13" fill="#49b27e"/><rect x="313" y="459" width="1" height="10" fill="#49b27e"/><rect x="318" y="459" width="1" height="8" fill="#49b27e"/><rect x="323" y="459" width="1" height="6" fill="#49b27e"/><rect x="328" y="459" width="1" height="4" fill="#49b27e"/><rect x="333" y="459" width="1" height="3" fill="#49b27e"/><rect x="338" y="459" width="1" height="5" fill="#49b27e"/><rect x="343" y="459" width="1" height="4" fill="#49b27e"/><rect x="348" y="459" width="1" height="2" fill="#49b27e"/><rect x="353" y="456" width="1" height="4" fill="#e9485c"/><rect x="358" y="459" width="1" height="1" fill="#49b27e"/><rect x="363" y="456" width="1" height="4" fill="#e9485c"/><rect x="368" y="457" width="1" height="3" fill="#e9485c"/><rect x="373" y="459" width="1" height="1" fill="#49b27e"/><rect x="378" y="459" width="1" height="6" fill="#49b27e"/><rect x="383" y="459" width="1" height="10" fill="#49b27e"/><rect x="388" y="459" width="1" height="14" fill="#49b27e"/><rect x="393" y="459" width="1" height="16" fill="#49b27e"/><rect x="398" y="459" width="1" height="15" fill="#49b27e"/><rect x="403" y="459" width="1" height="13" fill="#49b27e"/><rect x="408" y="459" width="1" height="11" fill="#49b27e"/><rect x="413" y="459" width="1" height="11" fill="#49b27e"/><rect x="418" y="459" width="1" height="11" fill="#49b27e"/><rect x="423" y="459" width="1" height="11" fill="#49b27e"/><rect x="428" y="459" width="1" height="9" fill="#49b27e"/><rect x="433" y="459" width="1" height="3" fill="#49b27e"/><rect x="438" y="456" width="1" height="4" fill="#e9485c"/><rect x="443" y="451" width="1" height="9" fill="#e9485c"/><rect x="448" y="451" width="1" height="9" fill="#e9485c"/><rect x="453" y="450" width="1" height="10" fill="#e9485c"/><rect x="458" y="448" width="1" height="12" fill="#e9485c"/><rect x="463" y="445" width="1" height="15" fill="#e9485c"/><rect x="468" y="444" width="1" height="16" fill="#e9485c"/><rect x="473" y="444" width="1" height="16" fill="#e9485c"/><rect x="478" y="443" width="1" height="17" fill="#e9485c"/><rect x="483" y="444" width="1" height="16" fill="#e9485c"/><rect x="488" y="448" width="1" height="12" fill="#e9485c"/><rect x="493" y="452" width="1" height="8" fill="#e9485c"/><rect x="498" y="453" width="1" height="7" fill="#e9485c"/><rect x="503" y="452" width="1" height="8" fill="#e9485c"/><rect x="508" y="457" width="1" height="3" fill="#e9485c"/><rect x="513" y="459" width="1" height="4" fill="#49b27e"/><rect x="518" y="459" width="1" height="5" fill="#49b27e"/><rect x="523" y="459" width="1" height="6" fill="#49b27e"/><rect x="528" y="459" width="1" height="6" fill="#49b27e"/><rect x="533" y="459" width="1" height="6" fill="#49b27e"/><rect x="538" y="459" width="1" height="4" fill="#49b27e"/><rect x="543" y="459" width="1" height="3" fill="#49b27e"/><rect x="548" y="459" width="1" height="3" fill="#49b27e"/><rect x="553" y="459" width="1" height="7" fill="#49b27e"/><rect x="558" y="459" width="1" height="8" fill="#49b27e"/><rect x="563" y="459" width="1" height="4" fill="#49b27e"/><rect x="568" y="459" width="1" height="3" fill="#49b27e"/><rect x="573" y="459" width="1" height="5" fill="#49b27e"/><rect x="578" y="459" width="1" height="9" fill="#49b27e"/><rect x="583" y="459" width="1" height="13" fill="#49b27e"/><rect x="588" y="459" width="1" height="15" fill="#49b27e"/><rect x="593" y="459" width="1" height="15" fill="#49b27e"/><rect x="598" y="459" width="1" height="13" fill="#49b27e"/><rect x="603" y="459" width="1" height="10" fill="#49b27e"/><rect x="608" y="459" width="1" height="10" fill="#49b27e"/><rect x="613" y="459" width="1" height="4" fill="#49b27e"/><rect x="618" y="456" width="1" height="4" fill="#e9485c"/><rect x="623" y="453" width="1" height="7" fill="#e9485c"/><rect x="628" y="450" width="1" height="10" fill="#e9485c"/><rect x="633" y="443" width="1" height="17" fill="#e9485c"/><rect x="638" y="439" width="1" height="21" fill="#e9485c"/><rect x="643" y="439" width="1" height="21" fill="#e9485c"/><rect x="648" y="439" width="1" height="21" fill="#e9485c"/><rect x="653" y="441" width="1" height="19" fill="#e9485c"/><rect x="658" y="444" width="1" height="16" fill="#e9485c"/><rect x="663" y="444" width="1" height="16" fill="#e9485c"/><rect x="668" y="444" width="1" height="16" fill="#e9485c"/><rect x="673" y="443" width="1" height="17" fill="#e9485c"/><rect x="678" y="446" width="1" height="14" fill="#e9485c"/><rect x="683" y="450" width="1" height="10" fill="#e9485c"/><rect x="688" y="453" width="1" height="7" fill="#e9485c"/><rect x="693" y="453" width="1" height="7" fill="#e9485c"/><rect x="698" y="453" width="1" height="7" fill="#e9485c"/><rect x="703" y="449" width="1" height="11" fill="#e9485c"/><rect x="708" y="447" width="1" height="13" fill="#e9485c"/>
<polyline points="93.3,448.4 98.6,446.0 103.1,443.9 107.6,441.4 113.7,438.9 119.7,436.6 124.2,435.9 133.3,435.9 140.8,436.3 148.4,438.1 155.9,439.6 163.5,441.1 171.0,442.3 178.6,443.0 184.6,443.0 189.2,442.6 193.7,441.9 199.7,440.8 205.8,439.6 211.8,438.4 213.0,438.4 222.1,436.3 232.6,436.3 246.2,441.1 258.3,446.4 268.1,451.7 283.2,457.0 291.5,462.3 300.6,466.8 312.7,469.8 323.2,470.6 334.5,471.6 338.0,472.1 353.1,472.5 368.2,472.1 378.8,472.5 387.8,475.1 402.9,481.2 418.0,485.7 427.1,487.2 436.1,487.2 443.7,485.7 457.3,483.1 463.0,481.6 470.5,478.9 478.1,476.2 487.2,472.5 493.2,471.3 502.3,470.6 508.3,470.3 515.8,471.0 523.4,471.6 530.9,473.1 544.5,473.6 553.6,475.1 568.7,476.6 577.8,478.1 583.8,479.6 588.0,481.2 595.5,483.7 606.1,487.2 616.7,487.2 628.8,485.2 637.8,481.2 648.4,475.9 659.0,472.1 672.6,466.1 683.1,464.1 693.7,462.6 699.7,462.6 708.0,459.6" fill="none" stroke="#3fbf74" stroke-width="1" shape-rendering="crispEdges"/>
<polyline points="93.3,437.4 98.6,434.3 103.1,432.5 106.1,431.3 110.6,431.0 115.2,431.0 118.2,431.8 125.7,433.3 130.3,434.6 137.8,435.4 142.4,436.6 148.4,439.6 154.4,442.6 160.5,444.9 166.5,445.4 172.6,444.9 178.6,444.5 184.6,444.2 189.2,441.9 193.7,439.6 199.7,436.9 205.8,435.1 210.3,434.8 213.3,433.6 213.0,433.3 225.8,433.3 232.6,437.4 246.2,450.2 258.3,457.7 268.1,462.3 283.2,466.8 291.5,469.1 299.8,471.3 312.7,473.6 323.2,473.6 327.8,472.1 334.5,472.1 338.0,474.1 345.5,473.6 353.1,471.6 370.5,471.6 374.2,472.5 383.3,478.9 393.9,485.2 402.9,487.2 410.5,488.7 416.5,490.2 428.6,489.8 434.6,487.9 443.7,482.2 452.8,480.1 460.3,475.9 463.0,474.4 470.5,471.0 478.1,468.3 483.4,466.5 487.2,467.1 493.2,468.3 499.2,468.3 503.0,467.6 508.3,469.8 515.8,472.8 523.4,474.4 532.5,476.6 538.5,475.1 544.5,474.1 553.6,478.1 558.1,479.6 562.7,478.1 568.7,477.1 576.2,480.4 583.8,485.7 588.0,488.7 592.5,489.8 610.6,489.8 618.2,486.4 627.3,481.9 633.3,476.6 639.3,470.6 648.4,466.5 654.4,465.3 659.0,465.3 663.5,463.5 672.6,459.6 683.1,459.6 687.7,460.5 695.2,460.5 702.8,457.0 708.0,454.4" fill="none" stroke="#3a86ef" stroke-width="1" shape-rendering="crispEdges"/>
<rect x="27" y="412" width="4" height="1" fill="#111"/><rect x="27" y="419" width="4" height="1" fill="#111"/><rect x="25" y="414" width="1" height="4" fill="#111"/><rect x="32" y="414" width="1" height="4" fill="#111"/><rect x="26" y="413" width="1" height="1" fill="#111"/><rect x="31" y="413" width="1" height="1" fill="#111"/><rect x="26" y="418" width="1" height="1" fill="#111"/><rect x="31" y="418" width="1" height="1" fill="#111"/><rect x="28" y="414" width="2" height="1" fill="#ff0000"/><rect x="27" y="415" width="4" height="2" fill="#ff0000"/><rect x="28" y="417" width="2" height="1" fill="#ff0000"/><rect x="28" y="409" width="1" height="2" fill="#ff0000"/><rect x="28" y="421" width="1" height="2" fill="#ff0000"/><rect x="22" y="415" width="2" height="1" fill="#ff0000"/><rect x="34" y="415" width="2" height="1" fill="#ff0000"/><rect x="23" y="410" width="1" height="1" fill="#ff0000"/><rect x="24" y="411" width="1" height="1" fill="#ff0000"/><rect x="34" y="410" width="1" height="1" fill="#ff0000"/><rect x="33" y="411" width="1" height="1" fill="#ff0000"/><rect x="23" y="421" width="1" height="1" fill="#ff0000"/><rect x="24" y="420" width="1" height="1" fill="#ff0000"/><rect x="34" y="421" width="1" height="1" fill="#ff0000"/><rect x="33" y="420" width="1" height="1" fill="#ff0000"/>
<rect x="20.5" y="491.5" width="69" height="19" fill="#fff" stroke="#d3dbe4"/>
<text x="34.6" y="507.2" fill="#ff7a0a" font-size="12.2" text-anchor="start" font-weight="bold" >日线</text>
<path d="M64.5 506h8.2l-4.1-8z" fill="#ff7a0a"/>
<rect x="123" y="492" width="1" height="4" fill="#d0d7df"/>
<text x="124.8" y="504.4" fill="#1e1e28" font-size="12.6" text-anchor="start" font-weight="bold" >2024/09</text>
<rect x="228" y="492" width="1" height="4" fill="#d0d7df"/>
<text x="229.8" y="504.4" fill="#1e1e28" font-size="12.6" text-anchor="start" font-weight="bold" >2024/10</text>
<rect x="343" y="492" width="1" height="4" fill="#d0d7df"/>
<text x="344.8" y="504.4" fill="#1e1e28" font-size="12.6" text-anchor="start" font-weight="bold" >2024/11</text>
<rect x="448" y="492" width="1" height="4" fill="#d0d7df"/>
<text x="449.8" y="504.4" fill="#1e1e28" font-size="12.6" text-anchor="start" font-weight="bold" >2024/12</text>
<rect x="553" y="492" width="1" height="4" fill="#d0d7df"/>
<text x="554.8" y="504.4" fill="#1e1e28" font-size="12.6" text-anchor="start" font-weight="bold" >2025/01</text>
<rect x="663" y="492" width="1" height="4" fill="#d0d7df"/>
<text x="664.8" y="504.4" fill="#1e1e28" font-size="12.6" text-anchor="start" font-weight="bold" >2025/02</text>
<rect x="598" y="508" width="175" height="1" fill="#edf0f4"/>
<rect x="20" y="511" width="841" height="1" fill="#cfd5dc"/>
<rect x="20" y="526" width="841" height="1" fill="#cfd5dc"/>
<rect x="584" y="512" width="277" height="1" fill="#cfd5dc"/>
<rect x="20" y="511" width="39" height="16" fill="#ff6600"/>
<rect x="59" y="511" width="1" height="16" fill="#cfd5dc"/>
<rect x="99" y="511" width="1" height="16" fill="#cfd5dc"/>
<rect x="158" y="511" width="1" height="16" fill="#cfd5dc"/>
<rect x="185" y="511" width="1" height="16" fill="#cfd5dc"/>
<rect x="225" y="511" width="1" height="16" fill="#cfd5dc"/>
<rect x="265" y="511" width="1" height="16" fill="#cfd5dc"/>
<rect x="300" y="511" width="1" height="16" fill="#cfd5dc"/>
<rect x="340" y="511" width="1" height="16" fill="#cfd5dc"/>
<rect x="373" y="511" width="1" height="16" fill="#cfd5dc"/>
<rect x="408" y="511" width="1" height="16" fill="#cfd5dc"/>
<rect x="447" y="511" width="1" height="16" fill="#cfd5dc"/>
<rect x="481" y="511" width="1" height="16" fill="#cfd5dc"/>
<rect x="509" y="511" width="1" height="16" fill="#cfd5dc"/>
<rect x="543" y="511" width="1" height="16" fill="#cfd5dc"/>
<rect x="583" y="511" width="1" height="16" fill="#cfd5dc"/>
<rect x="584" y="511" width="1" height="16" fill="#cfd5dc"/>
<text x="27.6" y="524.2" fill="#fff" font-size="12.8" text-anchor="start" font-weight="normal"  stroke="#fff" stroke-width="0.2">指标</text>
<text x="67.9" y="524.2" fill="#1a1a2a" font-size="12.8" text-anchor="start" font-weight="normal"  stroke="#1a1a2a" stroke-width="0.2">模板</text>
<text x="125.6" y="524.2" fill="#ff7a0a" font-size="12.8" text-anchor="start" font-weight="normal"  stroke="#ff7a0a" stroke-width="0.2">指标</text>
<text x="551.3" y="524.2" fill="#1a1a2a" font-size="12.8" text-anchor="start" font-weight="normal"  stroke="#1a1a2a" stroke-width="0.2">设置</text>
<text x="107.8" y="522.8" fill="#ff7a0a" font-family="Liberation Serif,serif" font-size="11.6" lengthAdjust="spacingAndGlyphs" textLength="17.5">VIP</text>
<text x="165.5" y="522.8" fill="#1a1a2a" font-family="Liberation Serif,serif" font-size="11.6" lengthAdjust="spacingAndGlyphs" textLength="12.3">MA</text>
<text x="193.7" y="522.8" fill="#1a1a2a" font-family="Liberation Serif,serif" font-size="11.6" lengthAdjust="spacingAndGlyphs" textLength="23.5">MACD</text>
<text x="233.8" y="522.8" fill="#1a1a2a" font-family="Liberation Serif,serif" font-size="11.6" lengthAdjust="spacingAndGlyphs" textLength="24.2">BOLL</text>
<text x="273.5" y="522.8" fill="#1a1a2a" font-family="Liberation Serif,serif" font-size="11.6" lengthAdjust="spacingAndGlyphs" textLength="18.7">VOL</text>
<text x="307.8" y="522.8" fill="#1a1a2a" font-family="Liberation Serif,serif" font-size="11.6" lengthAdjust="spacingAndGlyphs" textLength="23.4">BIAS</text>
<text x="346.8" y="522.8" fill="#1a1a2a" font-family="Liberation Serif,serif" font-size="11.6" lengthAdjust="spacingAndGlyphs" textLength="18.4">CCI</text>
<text x="381.3" y="522.8" fill="#1a1a2a" font-family="Liberation Serif,serif" font-size="11.6" lengthAdjust="spacingAndGlyphs" textLength="18.9">KDJ</text>
<text x="415.4" y="522.8" fill="#1a1a2a" font-family="Liberation Serif,serif" font-size="11.6" lengthAdjust="spacingAndGlyphs" textLength="18.5">LW&amp;</text>
<text x="455.5" y="522.8" fill="#1a1a2a" font-family="Liberation Serif,serif" font-size="11.6" lengthAdjust="spacingAndGlyphs" textLength="17.5">RSI</text>
<text x="489.2" y="522.8" fill="#1a1a2a" font-family="Liberation Serif,serif" font-size="11.6" lengthAdjust="spacingAndGlyphs" textLength="12.0">CR</text>
<text x="517.8" y="522.8" fill="#1a1a2a" font-family="Liberation Serif,serif" font-size="11.6" lengthAdjust="spacingAndGlyphs" textLength="17.4">PSY</text>
<g transform="translate(1,1) scale(0.925,1)"><text fill="#a88e7c" stroke="#a88e7c" font-size="31" font-family="Liberation Sans,sans-serif" x="790.5 813.3 837.2 859 879.6" y="502.1" stroke-width="0.5">FX678</text></g>
<g transform="scale(0.925,1)"><text fill="#dce8f7" stroke="#dce8f7" font-size="31" font-family="Liberation Sans,sans-serif" x="790.5 813.3 837.2 859 879.6" y="502.1" stroke-width="0.5">FX678</text></g>
</g></svg>
</body></html>
